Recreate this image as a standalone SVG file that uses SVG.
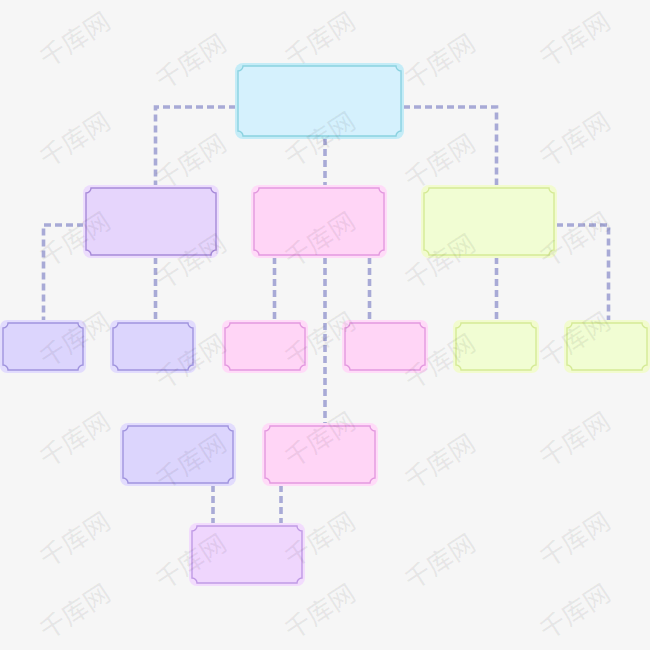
<svg xmlns="http://www.w3.org/2000/svg" width="650" height="650" viewBox="0 0 650 650">
<style>
.bg{fill:#f6f6f6}
.con{fill:none;stroke:#a8aad6;stroke-width:3.6;stroke-dasharray:7 4}
.inner{stroke-width:1.4}
.cyan .band{fill:#c4ecf7}.cyan .inner{fill:#d5f1fd;stroke:#8bd2e0}
.lav .band{fill:#ecdcfd}.lav .inner{fill:#e6d5fc;stroke:#a68ad8}
.pink .band{fill:#ffdbf8}.pink .inner{fill:#ffd5f6;stroke:#e399df}
.lime .band{fill:#f2fbcf}.lime .inner{fill:#f1fdd3;stroke:#d5ea96}
.blue .band{fill:#e2dcfd}.blue .inner{fill:#dcd5fd;stroke:#a094de}
.orch .band{fill:#f2dcfd}.orch .inner{fill:#efd6fd;stroke:#c09ae5}
.wm{font-family:"Noto Sans CJK SC","Noto Sans",sans-serif;font-size:26px;font-weight:500;fill:#000;fill-opacity:0.06;text-anchor:middle}
</style>
<rect class="bg" x="0" y="0" width="650" height="650"/>
<g id="connectors">
<path class="con" d="M236,107 H155.5 V186"/>
<path class="con" d="M403,107 H496.5 V186"/>
<path class="con" d="M325,138 V186"/>
<path class="con" d="M84,225 H43.5 V321"/>
<path class="con" d="M155.5,257 V321"/>
<path class="con" d="M274.5,257 V321"/>
<path class="con" d="M369.5,257 V321"/>
<path class="con" d="M325,257 V424"/>
<path class="con" d="M496.5,257 V321"/>
<path class="con" d="M556,225 H608.5 V321"/>
<path class="con" d="M213,485 V524"/>
<path class="con" d="M281,485 V524"/>
</g>
<g id="root" class="cyan">
<rect class="band" x="235" y="63" width="169" height="76" rx="8"/>
<path class="inner" d="M243,66 H396 A5 5 0 0 0 401,71 V131 A5 5 0 0 0 396,136 H243 A5 5 0 0 0 238,131 V71 A5 5 0 0 0 243,66 Z"/>
</g>
<g id="l2-left" class="lav">
<rect class="band" x="83" y="185" width="136" height="73" rx="8"/>
<path class="inner" d="M91,188 H211 A5 5 0 0 0 216,193 V250 A5 5 0 0 0 211,255 H91 A5 5 0 0 0 86,250 V193 A5 5 0 0 0 91,188 Z"/>
</g>
<g id="l2-mid" class="pink">
<rect class="band" x="251" y="185" width="136" height="73" rx="8"/>
<path class="inner" d="M259,188 H379 A5 5 0 0 0 384,193 V250 A5 5 0 0 0 379,255 H259 A5 5 0 0 0 254,250 V193 A5 5 0 0 0 259,188 Z"/>
</g>
<g id="l2-right" class="lime">
<rect class="band" x="421" y="185" width="136" height="73" rx="8"/>
<path class="inner" d="M429,188 H549 A5 5 0 0 0 554,193 V250 A5 5 0 0 0 549,255 H429 A5 5 0 0 0 424,250 V193 A5 5 0 0 0 429,188 Z"/>
</g>
<g id="l3-1" class="blue">
<rect class="band" x="0" y="320" width="86" height="53" rx="7"/>
<path class="inner" d="M8,323 H78 A5 5 0 0 0 83,328 V365 A5 5 0 0 0 78,370 H8 A5 5 0 0 0 3,365 V328 A5 5 0 0 0 8,323 Z"/>
</g>
<g id="l3-2" class="blue">
<rect class="band" x="110" y="320" width="86" height="53" rx="7"/>
<path class="inner" d="M118,323 H188 A5 5 0 0 0 193,328 V365 A5 5 0 0 0 188,370 H118 A5 5 0 0 0 113,365 V328 A5 5 0 0 0 118,323 Z"/>
</g>
<g id="l3-3" class="pink">
<rect class="band" x="222" y="320" width="86" height="53" rx="7"/>
<path class="inner" d="M230,323 H300 A5 5 0 0 0 305,328 V365 A5 5 0 0 0 300,370 H230 A5 5 0 0 0 225,365 V328 A5 5 0 0 0 230,323 Z"/>
</g>
<g id="l3-4" class="pink">
<rect class="band" x="342" y="320" width="86" height="53" rx="7"/>
<path class="inner" d="M350,323 H420 A5 5 0 0 0 425,328 V365 A5 5 0 0 0 420,370 H350 A5 5 0 0 0 345,365 V328 A5 5 0 0 0 350,323 Z"/>
</g>
<g id="l3-5" class="lime">
<rect class="band" x="453" y="320" width="86" height="53" rx="7"/>
<path class="inner" d="M461,323 H531 A5 5 0 0 0 536,328 V365 A5 5 0 0 0 531,370 H461 A5 5 0 0 0 456,365 V328 A5 5 0 0 0 461,323 Z"/>
</g>
<g id="l3-6" class="lime">
<rect class="band" x="564" y="320" width="86" height="53" rx="7"/>
<path class="inner" d="M572,323 H642 A5 5 0 0 0 647,328 V365 A5 5 0 0 0 642,370 H572 A5 5 0 0 0 567,365 V328 A5 5 0 0 0 572,323 Z"/>
</g>
<g id="l4-left" class="blue">
<rect class="band" x="120" y="423" width="116" height="63" rx="8"/>
<path class="inner" d="M128,426 H228 A5 5 0 0 0 233,431 V478 A5 5 0 0 0 228,483 H128 A5 5 0 0 0 123,478 V431 A5 5 0 0 0 128,426 Z"/>
</g>
<g id="l4-right" class="pink">
<rect class="band" x="262" y="423" width="116" height="63" rx="8"/>
<path class="inner" d="M270,426 H370 A5 5 0 0 0 375,431 V478 A5 5 0 0 0 370,483 H270 A5 5 0 0 0 265,478 V431 A5 5 0 0 0 270,426 Z"/>
</g>
<g id="l5" class="orch">
<rect class="band" x="189" y="523" width="116" height="63" rx="8"/>
<path class="inner" d="M197,526 H297 A5 5 0 0 0 302,531 V578 A5 5 0 0 0 297,583 H197 A5 5 0 0 0 192,578 V531 A5 5 0 0 0 197,526 Z"/>
</g>
<g id="watermark" class="wm">
<text x="75" y="49" transform="rotate(-33 75 40)">千库网</text>
<text x="75" y="149" transform="rotate(-33 75 140)">千库网</text>
<text x="75" y="249" transform="rotate(-33 75 240)">千库网</text>
<text x="75" y="349" transform="rotate(-33 75 340)">千库网</text>
<text x="75" y="449" transform="rotate(-33 75 440)">千库网</text>
<text x="75" y="549" transform="rotate(-33 75 540)">千库网</text>
<text x="75" y="621" transform="rotate(-33 75 612)">千库网</text>
<text x="320" y="49" transform="rotate(-33 320 40)">千库网</text>
<text x="320" y="149" transform="rotate(-33 320 140)">千库网</text>
<text x="320" y="249" transform="rotate(-33 320 240)">千库网</text>
<text x="320" y="349" transform="rotate(-33 320 340)">千库网</text>
<text x="320" y="449" transform="rotate(-33 320 440)">千库网</text>
<text x="320" y="549" transform="rotate(-33 320 540)">千库网</text>
<text x="320" y="621" transform="rotate(-33 320 612)">千库网</text>
<text x="575" y="49" transform="rotate(-33 575 40)">千库网</text>
<text x="575" y="149" transform="rotate(-33 575 140)">千库网</text>
<text x="575" y="249" transform="rotate(-33 575 240)">千库网</text>
<text x="575" y="349" transform="rotate(-33 575 340)">千库网</text>
<text x="575" y="449" transform="rotate(-33 575 440)">千库网</text>
<text x="575" y="549" transform="rotate(-33 575 540)">千库网</text>
<text x="575" y="621" transform="rotate(-33 575 612)">千库网</text>
<text x="191" y="71" transform="rotate(-33 191 62)">千库网</text>
<text x="191" y="171" transform="rotate(-33 191 162)">千库网</text>
<text x="191" y="271" transform="rotate(-33 191 262)">千库网</text>
<text x="191" y="371" transform="rotate(-33 191 362)">千库网</text>
<text x="191" y="471" transform="rotate(-33 191 462)">千库网</text>
<text x="191" y="571" transform="rotate(-33 191 562)">千库网</text>
<text x="440" y="71" transform="rotate(-33 440 62)">千库网</text>
<text x="440" y="171" transform="rotate(-33 440 162)">千库网</text>
<text x="440" y="271" transform="rotate(-33 440 262)">千库网</text>
<text x="440" y="371" transform="rotate(-33 440 362)">千库网</text>
<text x="440" y="471" transform="rotate(-33 440 462)">千库网</text>
<text x="440" y="571" transform="rotate(-33 440 562)">千库网</text>
</g>
</svg>
